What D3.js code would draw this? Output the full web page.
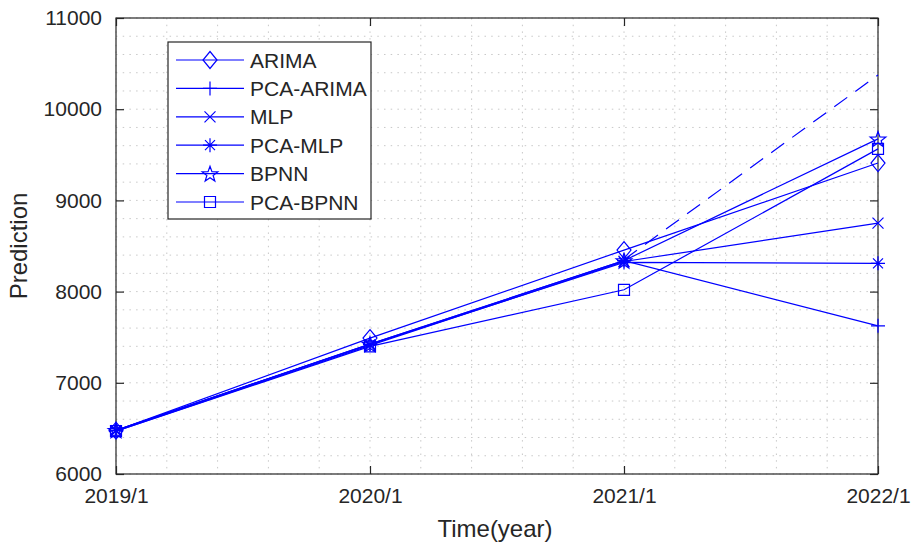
<!DOCTYPE html>
<html><head><meta charset="utf-8">
<script src="https://cdn.jsdelivr.net/npm/d3@7/dist/d3.min.js"></script>
<style>body{margin:0;background:#fff}svg{display:block}text{font-family:"Liberation Sans",Arial,sans-serif;fill:#262626}</style>
</head><body><svg id="c" width="912" height="544"></svg>
<script>
const years = ["2019/1","2020/1","2021/1","2022/1"];
const yTicks = [6000,7000,8000,9000,10000,11000];
const seriesNames = ["ARIMA","PCA-ARIMA","MLP","PCA-MLP","BPNN","PCA-BPNN"];
const arima    = [6475, 7490, 8455, 9410];
const pcaArima = [6475, 7425, 8340, 7625];
const mlp      = [6470, 7410, 8330, 8750];
const pcaMlp   = [6480, 7420, 8320, 8310];
const bpnn     = [6480, 7425, 8340, 9675];
const pcaBpnn  = [6470, 7400, 8020, 9565];
const trend    = [null, null, 8350, 10375];
const markers  = ["diamond","plus","x","asterisk","star","square"];

const svg = d3.select("#c");
const L=116, R=878, T=18, B=474;
const x = d3.scaleLinear().domain([0,3]).range([L,R]);
const y = d3.scaleLinear().domain([6000,11000]).range([B,T]);
const blue = "#0000ff";

// grid (major + minor, dotted)
const g = svg.append("g");
const xGrid = d3.range(0,3.0001,0.2);
const yGrid = d3.range(6000,11001,200);
g.selectAll("line.vx").data(xGrid).join("line")
  .attr("x1",d=>x(d)).attr("x2",d=>x(d)).attr("y1",T).attr("y2",B)
  .attr("stroke","#c8c8c8").attr("stroke-width",1).attr("stroke-dasharray","1.5,5.2");
g.selectAll("line.hy").data(yGrid).join("line")
  .attr("y1",d=>y(d)).attr("y2",d=>y(d)).attr("x1",L).attr("x2",R)
  .attr("stroke","#c8c8c8").attr("stroke-width",1).attr("stroke-dasharray","1.5,5.2");

// axes
const ax = svg.append("g");
ax.append("rect").attr("x",L).attr("y",T).attr("width",R-L).attr("height",B-T)
  .attr("fill","none").attr("stroke","#262626").attr("stroke-width",1.2);
const xa = d3.axisBottom(x).tickValues([0,1,2,3]).tickFormat(i=>years[i]).tickSizeInner(-8).tickSizeOuter(0).tickPadding(14);
const ya = d3.axisLeft(y).tickValues(yTicks).tickFormat(d3.format("d")).tickSizeInner(-8).tickSizeOuter(0).tickPadding(14);
const xg = ax.append("g").attr("transform",`translate(0,${B})`).call(xa);
const yg = ax.append("g").attr("transform",`translate(${L},0)`).call(ya);
const xt = ax.append("g").attr("transform",`translate(0,${T})`).call(d3.axisTop(x).tickValues([0,1,2,3]).tickSizeInner(-8).tickSizeOuter(0).tickFormat(""));
const yr = ax.append("g").attr("transform",`translate(${R},0)`).call(d3.axisRight(y).tickValues(yTicks).tickSizeInner(-8).tickSizeOuter(0).tickFormat(""));
[xg,yg,xt,yr].forEach(a=>{a.select(".domain").remove();a.selectAll("line").attr("stroke","#262626").attr("stroke-width",1.2);});
xg.selectAll("text").attr("font-size",21).style("fill","#262626");
yg.selectAll("text").attr("font-size",21).style("fill","#262626");

svg.append("text").attr("x",(L+R)/2-2).attr("y",537).attr("text-anchor","middle").attr("font-size",24).text("Time(year)");
svg.append("text").attr("transform",`translate(27,${(T+B)/2}) rotate(-90)`).attr("text-anchor","middle").attr("font-size",24).text("Prediction");

function markerPath(type){
  switch(type){
    case "diamond": return "M0,-8.5L7,0L0,8.5L-7,0Z";
    case "plus": return "M-7,0H7M0,-7V7";
    case "x": return "M-5.5,-5.5L5.5,5.5M-5.5,5.5L5.5,-5.5";
    case "asterisk": return "M-7,0H7M0,-7V7M-5,-5L5,5M-5,5L5,-5";
    case "square": return "M-5.5,-5.5H5.5V5.5H-5.5Z";
    case "star": {
      let p=[];
      for(let i=0;i<10;i++){const r=i%2?3.3:8.2;const a=-Math.PI/2+i*Math.PI/5;p.push([r*Math.cos(a),r*Math.sin(a)+0.8]);}
      return "M"+p.map(q=>q[0].toFixed(2)+","+q[1].toFixed(2)).join("L")+"Z";
    }
  }
}

const allSeries = [arima,pcaArima,mlp,pcaMlp,bpnn,pcaBpnn];
const line = d3.line().defined(d=>d!=null).x((d,i)=>x(i)).y(d=>y(d));
const pg = svg.append("g");
allSeries.forEach((s,k)=>{
  pg.append("path").attr("d",line(s)).attr("fill","none").attr("stroke",blue).attr("stroke-width",1.2);
  pg.selectAll(null).data(s).join("path")
    .attr("transform",(d,i)=>`translate(${x(i)},${y(d)})`)
    .attr("d",markerPath(markers[k])).attr("fill","none").attr("stroke",blue).attr("stroke-width",1.2);
});
pg.append("path").attr("d",line(trend)).attr("fill","none").attr("stroke",blue).attr("stroke-width",1.2).attr("stroke-dasharray","16,10");

// legend
const lg = svg.append("g");
lg.append("rect").attr("x",168).attr("y",42).attr("width",203).attr("height",177)
  .attr("fill","#fff").attr("stroke","#262626").attr("stroke-width",1.2);
seriesNames.forEach((n,k)=>{
  const yy = 60 + k*28.4;
  lg.append("line").attr("x1",176).attr("x2",244).attr("y1",yy).attr("y2",yy).attr("stroke",blue).attr("stroke-width",1.2);
  lg.append("path").attr("transform",`translate(210,${yy})`).attr("d",markerPath(markers[k])).attr("fill","none").attr("stroke",blue).attr("stroke-width",1.2);
  lg.append("text").attr("x",250).attr("y",yy+7.5).attr("font-size",21).text(n);
});
</script></body></html>
